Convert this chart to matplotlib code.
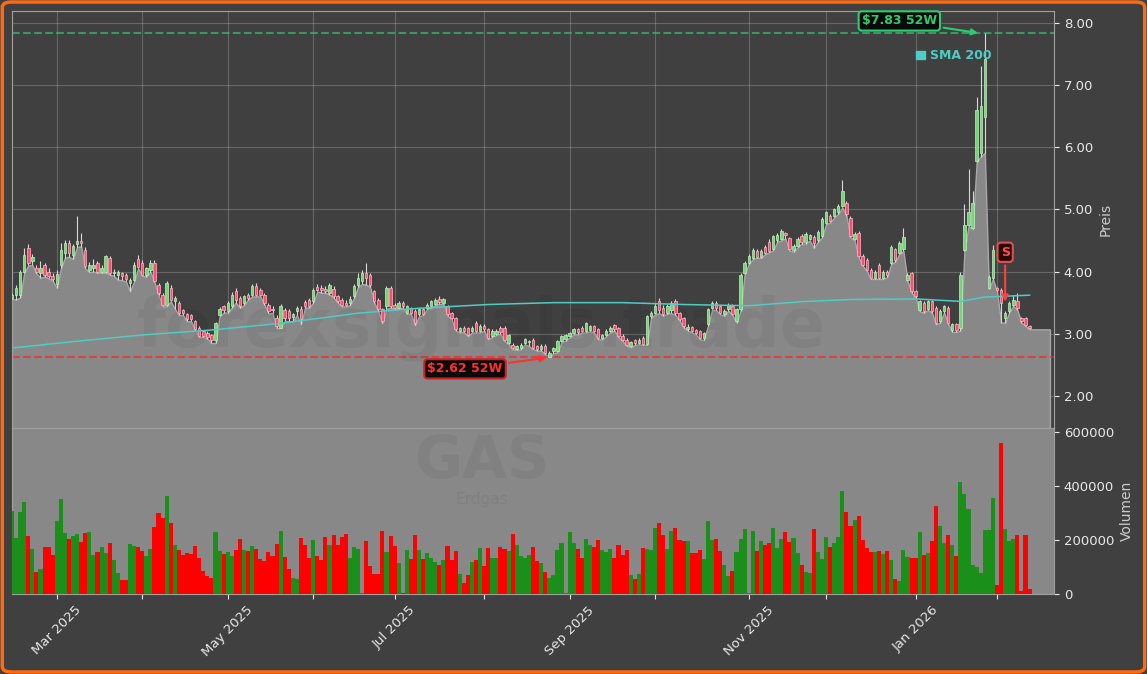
import numpy as np
import pandas as pd
import matplotlib
matplotlib.use('Agg')
import matplotlib.pyplot as plt
from matplotlib.patches import Patch, FancyBboxPatch

# trading days (NYSE calendar) from Feb 13 2025 to Feb 12 2026
holidays = ['2025-02-17', '2025-04-18', '2025-05-26', '2025-06-19', '2025-07-04',
            '2025-09-01', '2025-11-27', '2025-12-25', '2026-01-01', '2026-01-19']
dates = pd.bdate_range('2025-02-13', '2026-02-12', freq='C', holidays=holidays)

# OHLC (one row of 10 bars per line)
opens = [
    3.58, 3.63, 3.62, 4.00, 4.38, 4.17, 4.06, 3.98, 4.10, 3.99,
    3.93, 3.80, 4.10, 4.30, 4.46, 4.27, 4.45, 4.49, 4.35, 4.03,
    4.05, 4.14, 4.00, 4.00, 4.22, 3.97, 3.95, 3.98, 3.95, 3.82,
    3.86, 4.20, 4.13, 3.95, 4.03, 4.13, 3.79, 3.63, 3.47, 3.74,
    3.53, 3.50, 3.38, 3.31, 3.30, 3.20, 3.09, 3.04, 3.01, 2.98,
    2.90, 3.30, 3.44, 3.36, 3.44, 3.69, 3.57, 3.49, 3.63, 3.63,
    3.77, 3.70, 3.63, 3.47, 3.40, 3.25, 3.10, 3.38, 3.36, 3.27,
    3.36, 3.40, 3.51, 3.55, 3.52, 3.75, 3.74, 3.72, 3.66, 3.72,
    3.61, 3.55, 3.50, 3.50, 3.60, 3.78, 3.84, 3.98, 3.95, 3.68,
    3.55, 3.39, 3.44, 3.74, 3.47, 3.42, 3.50, 3.34, 3.41, 3.36,
    3.31, 3.39, 3.42, 3.44, 3.48, 3.56, 3.50, 3.44, 3.33, 3.25,
    3.04, 3.09, 3.09, 3.04, 3.17, 3.04, 3.13, 3.07, 2.97, 3.00,
    3.09, 3.09, 2.85, 2.82, 2.76, 2.77, 2.85, 2.86, 2.90, 2.80,
    2.75, 2.81, 2.63, 2.72, 2.72, 2.88, 2.91, 2.96, 3.01, 3.07,
    3.09, 3.04, 3.06, 3.12, 3.07, 2.93, 2.98, 3.04, 3.14, 3.09,
    2.96, 2.90, 2.80, 2.90, 2.85, 2.93, 2.84, 3.28, 3.33, 3.52,
    3.42, 3.34, 3.38, 3.52, 3.33, 3.25, 3.07, 3.11, 3.06, 3.04,
    2.93, 3.15, 3.41, 3.49, 3.44, 3.31, 3.39, 3.45, 3.20, 3.39,
    3.98, 4.14, 4.22, 4.33, 4.24, 4.40, 4.48, 4.36, 4.50, 4.52,
    4.62, 4.54, 4.34, 4.41, 4.57, 4.47, 4.52, 4.55, 4.50, 4.57,
    4.78, 4.90, 4.89, 4.95, 5.05, 5.10, 4.86, 4.52, 4.62, 4.25,
    4.19, 4.03, 3.90, 4.10, 3.90, 4.00, 4.14, 4.36, 4.30, 4.36,
    3.87, 3.98, 3.68, 3.38, 3.49, 3.40, 3.52, 3.41, 3.20, 3.36,
    3.41, 3.06, 3.15, 3.10, 4.35, 4.75, 4.70, 5.78, 5.90, 6.48,
    3.74, 3.90, 3.73, 3.71, 3.25, 3.36, 3.47, 3.52, 3.25, 3.25,
    3.12,
]
highs = [
    3.66, 3.79, 4.03, 4.38, 4.45, 4.28, 4.10, 4.17, 4.14, 4.06,
    3.98, 4.03, 4.46, 4.50, 4.50, 4.45, 4.89, 4.62, 4.40, 4.15,
    4.20, 4.17, 4.10, 4.27, 4.25, 4.04, 4.03, 4.00, 3.98, 3.90,
    4.15, 4.26, 4.18, 4.08, 4.18, 4.18, 3.82, 3.66, 3.84, 3.78,
    3.60, 3.53, 3.40, 3.34, 3.32, 3.22, 3.12, 3.06, 3.04, 3.00,
    3.19, 3.43, 3.47, 3.52, 3.67, 3.73, 3.60, 3.62, 3.66, 3.80,
    3.82, 3.73, 3.66, 3.50, 3.44, 3.30, 3.48, 3.42, 3.40, 3.34,
    3.44, 3.44, 3.55, 3.58, 3.73, 3.80, 3.78, 3.76, 3.82, 3.77,
    3.63, 3.57, 3.54, 3.60, 3.80, 3.98, 4.02, 4.14, 3.98, 3.70,
    3.57, 3.42, 3.76, 3.77, 3.50, 3.53, 3.53, 3.46, 3.43, 3.40,
    3.41, 3.42, 3.50, 3.54, 3.58, 3.60, 3.58, 3.46, 3.35, 3.27,
    3.11, 3.12, 3.11, 3.12, 3.20, 3.16, 3.16, 3.10, 3.07, 3.07,
    3.12, 3.13, 2.99, 2.85, 2.82, 2.85, 2.93, 2.90, 2.93, 2.82,
    2.83, 2.84, 2.72, 2.79, 2.90, 2.98, 3.00, 3.03, 3.09, 3.09,
    3.12, 3.19, 3.14, 3.14, 3.10, 3.00, 3.07, 3.12, 3.16, 3.11,
    2.99, 2.93, 2.89, 2.92, 2.93, 2.96, 3.30, 3.36, 3.50, 3.58,
    3.46, 3.48, 3.52, 3.56, 3.35, 3.27, 3.15, 3.13, 3.08, 3.06,
    3.03, 3.41, 3.52, 3.52, 3.46, 3.39, 3.49, 3.48, 3.42, 3.98,
    4.17, 4.28, 4.38, 4.36, 4.37, 4.43, 4.52, 4.59, 4.62, 4.68,
    4.64, 4.56, 4.45, 4.55, 4.60, 4.64, 4.60, 4.58, 4.67, 4.88,
    4.98, 4.93, 5.02, 5.08, 5.48, 5.14, 4.89, 4.63, 4.65, 4.28,
    4.22, 4.06, 4.02, 4.14, 4.03, 4.02, 4.43, 4.38, 4.49, 4.70,
    3.98, 4.00, 3.70, 3.55, 3.52, 3.55, 3.55, 3.44, 3.40, 3.46,
    3.44, 3.18, 3.17, 4.00, 5.08, 5.65, 5.30, 6.80, 7.30, 7.83,
    3.94, 4.43, 3.75, 3.74, 3.36, 3.52, 3.62, 3.66, 3.27, 3.27,
    3.14,
]
lows = [
    3.56, 3.55, 3.58, 3.98, 4.10, 4.10, 3.97, 3.90, 3.92, 3.89,
    3.85, 3.74, 4.05, 4.22, 4.24, 4.20, 4.40, 4.40, 4.05, 3.99,
    4.00, 3.98, 3.98, 3.98, 3.95, 3.93, 3.87, 3.86, 3.84, 3.68,
    3.84, 4.05, 3.93, 3.92, 4.00, 3.83, 3.62, 3.44, 3.44, 3.52,
    3.40, 3.30, 3.30, 3.20, 3.20, 3.06, 2.95, 2.95, 2.92, 2.85,
    2.85, 3.28, 3.34, 3.34, 3.42, 3.50, 3.42, 3.46, 3.55, 3.60,
    3.60, 3.60, 3.47, 3.33, 3.33, 3.09, 3.09, 3.20, 3.20, 3.20,
    3.30, 3.15, 3.42, 3.42, 3.50, 3.68, 3.66, 3.66, 3.63, 3.58,
    3.50, 3.44, 3.44, 3.46, 3.57, 3.75, 3.80, 3.79, 3.75, 3.50,
    3.36, 3.17, 3.40, 3.42, 3.40, 3.40, 3.42, 3.32, 3.32, 3.14,
    3.28, 3.30, 3.40, 3.42, 3.46, 3.48, 3.48, 3.29, 3.23, 3.05,
    3.02, 3.03, 2.96, 3.02, 3.02, 3.02, 3.05, 2.91, 2.95, 2.98,
    3.00, 2.88, 2.83, 2.75, 2.74, 2.75, 2.83, 2.80, 2.75, 2.73,
    2.73, 2.67, 2.62, 2.69, 2.70, 2.86, 2.89, 2.94, 2.99, 2.99,
    3.02, 3.02, 3.04, 3.02, 2.91, 2.91, 2.96, 3.02, 3.05, 2.95,
    2.88, 2.81, 2.78, 2.82, 2.83, 2.82, 2.82, 3.25, 3.31, 3.33,
    3.29, 3.32, 3.33, 3.30, 3.21, 3.10, 3.05, 3.02, 2.99, 2.91,
    2.90, 3.13, 3.39, 3.38, 3.31, 3.29, 3.37, 3.30, 3.18, 3.37,
    3.96, 4.12, 4.20, 4.22, 4.22, 4.28, 4.31, 4.34, 4.48, 4.50,
    4.53, 4.34, 4.32, 4.39, 4.45, 4.45, 4.50, 4.38, 4.48, 4.55,
    4.76, 4.79, 4.87, 4.93, 5.03, 4.90, 4.55, 4.50, 4.23, 4.09,
    4.01, 3.88, 3.88, 3.88, 3.88, 3.91, 4.12, 4.16, 4.28, 4.33,
    3.85, 3.66, 3.58, 3.36, 3.34, 3.38, 3.34, 3.15, 3.18, 3.34,
    3.16, 3.03, 3.03, 3.05, 4.33, 4.73, 4.68, 5.76, 5.85, 5.91,
    3.72, 3.88, 3.68, 3.18, 3.18, 3.34, 3.45, 3.38, 3.18, 3.12,
    3.07,
]
closes = [
    3.62, 3.74, 4.00, 4.27, 4.14, 4.23, 4.00, 4.05, 3.95, 3.93,
    3.88, 3.96, 4.35, 4.46, 4.30, 4.41, 4.49, 4.46, 4.09, 4.10,
    4.11, 4.00, 4.06, 4.25, 3.98, 4.00, 3.99, 3.93, 3.88, 3.86,
    4.10, 4.08, 3.95, 4.05, 4.14, 3.85, 3.66, 3.47, 3.82, 3.55,
    3.57, 3.33, 3.33, 3.23, 3.24, 3.08, 2.97, 2.97, 2.94, 2.90,
    3.17, 3.39, 3.38, 3.50, 3.63, 3.55, 3.44, 3.60, 3.58, 3.76,
    3.63, 3.63, 3.50, 3.36, 3.38, 3.12, 3.45, 3.25, 3.25, 3.31,
    3.41, 3.23, 3.45, 3.44, 3.70, 3.71, 3.70, 3.68, 3.79, 3.60,
    3.52, 3.47, 3.47, 3.56, 3.76, 3.90, 3.97, 3.90, 3.78, 3.52,
    3.39, 3.20, 3.74, 3.44, 3.42, 3.50, 3.44, 3.44, 3.34, 3.17,
    3.39, 3.32, 3.47, 3.52, 3.55, 3.51, 3.56, 3.31, 3.25, 3.07,
    3.09, 3.05, 2.98, 3.09, 3.04, 3.13, 3.07, 2.93, 3.04, 3.04,
    3.02, 2.90, 2.98, 2.77, 2.80, 2.82, 2.91, 2.88, 2.77, 2.75,
    2.81, 2.69, 2.69, 2.77, 2.88, 2.96, 2.98, 3.01, 3.07, 3.02,
    3.04, 3.17, 3.12, 3.04, 2.93, 2.98, 3.04, 3.09, 3.07, 2.96,
    2.90, 2.82, 2.87, 2.85, 2.90, 2.84, 3.28, 3.33, 3.44, 3.38,
    3.31, 3.45, 3.50, 3.33, 3.23, 3.12, 3.11, 3.04, 3.01, 2.93,
    3.01, 3.39, 3.49, 3.41, 3.33, 3.36, 3.47, 3.32, 3.39, 3.95,
    4.14, 4.25, 4.35, 4.24, 4.33, 4.30, 4.33, 4.57, 4.58, 4.65,
    4.58, 4.36, 4.41, 4.52, 4.48, 4.60, 4.58, 4.46, 4.64, 4.84,
    4.95, 4.81, 5.00, 5.05, 5.30, 4.92, 4.57, 4.61, 4.25, 4.11,
    4.03, 3.90, 3.99, 3.90, 4.00, 3.94, 4.40, 4.18, 4.46, 4.55,
    3.95, 3.68, 3.60, 3.52, 3.36, 3.52, 3.36, 3.17, 3.36, 3.44,
    3.18, 3.15, 3.06, 3.95, 4.75, 4.95, 5.10, 6.60, 6.67, 7.42,
    3.92, 4.35, 3.71, 3.50, 3.33, 3.49, 3.55, 3.41, 3.20, 3.14,
    3.09,
]
volumes = [
    309, 206, 305, 342, 215, 165, 83, 91, 175, 175,
    144, 270, 352, 225, 204, 215, 222, 194, 225, 228,
    144, 154, 174, 151, 188, 126, 77, 52, 52, 184,
    178, 173, 159, 141, 165, 247, 299, 280, 363, 262,
    181, 163, 144, 151, 148, 178, 132, 85, 67, 58,
    230, 159, 148, 157, 141, 163, 204, 163, 159, 178,
    165, 128, 122, 154, 141, 185, 233, 138, 94, 58,
    54, 209, 181, 135, 200, 141, 126, 212, 181, 218,
    181, 212, 221, 135, 173, 165, 4, 196, 104, 74,
    74, 235, 154, 215, 178, 114, 3, 163, 130, 219,
    163, 130, 151, 135, 120, 107, 126, 178, 126, 159,
    74, 42, 70, 117, 126, 170, 105, 170, 135, 135,
    175, 168, 159, 222, 181, 142, 135, 144, 175, 123,
    116, 80, 58, 70, 163, 188, 3, 230, 188, 167,
    135, 204, 181, 174, 200, 163, 157, 167, 135, 181,
    144, 163, 70, 56, 74, 170, 167, 164, 243, 263,
    219, 167, 233, 243, 200, 196, 196, 152, 152, 163,
    128, 270, 200, 204, 159, 107, 67, 85, 156, 204,
    241, 5, 233, 159, 196, 181, 189, 244, 170, 204,
    230, 193, 207, 153, 107, 81, 77, 241, 156, 130,
    211, 174, 189, 211, 381, 304, 252, 274, 289, 200,
    170, 156, 156, 159, 148, 159, 126, 56, 48, 163,
    137, 133, 133, 230, 144, 152, 196, 326, 252, 189,
    219, 181, 141, 415, 370, 315, 107, 100, 78, 237,
    237, 356, 33, 559, 241, 196, 204, 219, 12, 219,
    19,
]
volumes = [v * 1000 for v in volumes]

# SMA 200 read at a few bars
sma_idx = [0, 16, 32, 49, 65, 85, 100, 117, 133, 150, 165, 181, 195, 206, 222, 233, 239, 250]
sma_val = [2.77, 2.88, 2.98, 3.06, 3.16, 3.33, 3.41, 3.47, 3.50, 3.50, 3.47, 3.45, 3.52,
           3.55, 3.56, 3.52, 3.59, 3.62]

high_52w = 7.83
low_52w = 2.62
high_bar = 239
low_bar = 132
signal_bar = 244

bg = '#404040'
n = len(closes)
x = np.arange(n)
o = np.array(opens)
h = np.array(highs)
l = np.array(lows)
c = np.array(closes)
up = c >= o

fig = plt.figure(figsize=(11.47, 6.74), dpi=100, facecolor=bg)
fig.patches.append(FancyBboxPatch((0.002, 0.003), 0.996, 0.994,
                                  boxstyle='round,pad=0,rounding_size=0.008',
                                  transform=fig.transFigure, facecolor=bg,
                                  edgecolor='#ff6a10', linewidth=2.5, zorder=-10))

ax = fig.add_axes([12 / 1147, 1 - 428 / 674, 1042 / 1147, 417 / 674])
axv = fig.add_axes([12 / 1147, 1 - 594 / 674, 1042 / 1147, 166 / 674], sharex=ax)

# price panel
ax.set_facecolor(bg)
ax.set_axisbelow(True)
ax.grid(True, color='white', alpha=0.2, linewidth=0.8)
xf = np.arange(n + 5)
lf = np.append(l, [l[-1]] * 5)
ax.fill_between(xf, lf, 0, facecolor='#888888', edgecolor='#a8a8a8', linewidth=1, zorder=1)

ax.vlines(x, l, h, color='#d8d8d8', linewidth=0.8, zorder=3)
body = np.where(np.abs(c - o) < 0.02, 0.02, c - o)
ax.bar(x[up], body[up], bottom=o[up], width=0.6, color='#78d478',
       edgecolor='#c0f0c0', linewidth=0.5, zorder=4)
ax.bar(x[~up], body[~up], bottom=o[~up], width=0.6, color='#ff4d6d',
       edgecolor='#ffb8c6', linewidth=0.5, zorder=4)

ax.plot(sma_idx, sma_val, color='#4ecdc4', linewidth=1.1, zorder=5)

ax.axhline(high_52w, color='#2ecc71', linestyle='--', linewidth=1.5, alpha=0.65, zorder=2)
ax.axhline(low_52w, color='#ff2020', linestyle='--', linewidth=1.5, alpha=0.65, zorder=2)

ax.annotate('$7.83 52W', xy=(high_bar - 1, high_52w), xytext=(218, 8.03),
            color='#2ecc71', fontsize=9, fontweight='bold', ha='center', va='center',
            bbox=dict(boxstyle='round,pad=0.25', facecolor='#0a0a0a', edgecolor='#2ecc71', linewidth=1.5),
            arrowprops=dict(arrowstyle='-|>', color='#2ecc71', linewidth=1.5), zorder=8)
ax.annotate('$2.62 52W', xy=(low_bar, low_52w), xytext=(111.3, 2.435),
            color='#ff3030', fontsize=9, fontweight='bold', ha='center', va='center',
            bbox=dict(boxstyle='round,pad=0.25', facecolor='#0a0a0a', edgecolor='#d02020', linewidth=1.5),
            arrowprops=dict(arrowstyle='-|>', color='#ff3030', linewidth=1.5), zorder=8)
ax.annotate('S', xy=(signal_bar, 3.47), xytext=(signal_bar, 4.31),
            color='#ff5050', fontsize=9, fontweight='bold', ha='center', va='center',
            bbox=dict(boxstyle='round,pad=0.25', facecolor='#2a0808', edgecolor='#e05050', linewidth=1.5),
            arrowprops=dict(arrowstyle='-|>', color='#ff4040', linewidth=1.5), zorder=8)

ax.text(0.45, 0.24, 'forexsignals.trade', transform=ax.transAxes, fontsize=48,
        fontweight='bold', color='black', alpha=0.05, ha='center', va='center', zorder=2)

leg = ax.legend(handles=[Patch(color='#4ecdc4', label='SMA 200')], loc='upper right',
                bbox_to_anchor=(0.951, 0.935), frameon=False, handlelength=0.7,
                handleheight=0.7, handletextpad=0.4, labelcolor='#4ecdc4',
                prop={'weight': 'bold', 'size': 9})

ax.set_ylim(1.484, 8.19)
ax.set_xlim(0, n + 5)
ax.yaxis.tick_right()
ax.yaxis.set_label_position('right')
ax.set_yticks([2, 3, 4, 5, 6, 7, 8])
ax.yaxis.set_major_formatter(plt.FormatStrFormatter('%.2f'))
ax.set_ylabel('Preis', color='#cccccc', fontsize=10)
ax.tick_params(axis='y', colors='#e8e8e8', labelsize=9.5)
ax.tick_params(axis='x', labelbottom=False, length=0)
for s in ax.spines.values():
    s.set_color('#a0a0a0')

# volume panel
axv.set_facecolor('#888888')
vol_colors = np.where(up, '#1a8f1a', '#ff0000')
axv.bar(x, volumes, width=1.0, color=vol_colors, zorder=3)
axv.text(0.451, 0.80, 'GAS', transform=axv.transAxes, fontsize=42, fontweight='bold',
         color='black', alpha=0.05, ha='center', va='center', zorder=1)
axv.text(0.451, 0.57, 'Erdgas', transform=axv.transAxes, fontsize=11,
         color='black', alpha=0.06, ha='center', va='center', zorder=1)
axv.set_ylim(0, 615000)
axv.yaxis.tick_right()
axv.yaxis.set_label_position('right')
axv.set_yticks([0, 200000, 400000, 600000])
axv.ticklabel_format(axis='y', style='plain')
axv.set_ylabel('Volumen', color='#cccccc', fontsize=10)
axv.tick_params(axis='both', colors='#e8e8e8', labelsize=9.5)
for s in axv.spines.values():
    s.set_color('#a0a0a0')

month = dates.to_period('M')
tick_pos = [i for i in range(1, n) if month[i] != month[i - 1]]
tick_lab = [dates[i].strftime('%b %Y') if dates[i].month % 2 == 1 else '' for i in tick_pos]
axv.set_xticks(tick_pos)
axv.set_xticklabels(tick_lab, rotation=45, ha='center')
ax.set_xticks(tick_pos)

fig.savefig('out.png', dpi=100, facecolor=bg)
